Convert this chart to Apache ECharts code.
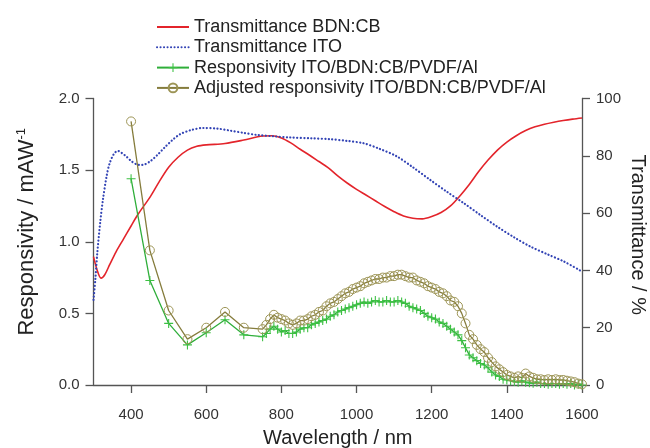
<!DOCTYPE html>
<html><head><meta charset="utf-8">
<script src="https://cdn.jsdelivr.net/npm/echarts@6/dist/echarts.min.js"></script>
<style>html,body{margin:0;padding:0;background:#fff}#c{width:650px;height:448px}</style>
</head><body><div id="c"></div>
<script>
// Transmittance BDN:CB (%)
var redX = [300,310,320,330,343,360,380,400,418,450,475,500,525,550,575,600,650,700,750,775,800,825,850,875,900,925,950,975,1000,1025,1050,1075,1100,1125,1150,1175,1200,1225,1250,1275,1300,1325,1350,1375,1400,1425,1450,1475,1500,1525,1550,1575,1600];
var redY = [44.8,40.0,37.3,38.5,42.0,46.5,51.0,55.5,59.5,65.5,71.0,76.0,79.5,82.0,83.3,83.8,84.3,85.5,86.9,87.0,86.2,84.5,82.3,80.2,78.0,75.8,73.0,70.5,68.3,66.3,64.3,62.3,60.5,59.0,58.2,58.0,58.8,60.2,62.5,66.0,70.0,74.5,78.5,82.0,84.8,87.0,88.8,90.1,91.0,91.7,92.3,92.8,93.2];
// Transmittance ITO (%)
var blueX = [300,305,310,318,325,335,343,355,365,375,387,400,415,430,450,470,490,510,530,560,591,630,663,700,734,780,823,880,929,975,1018,1060,1107,1150,1196,1240,1285,1330,1374,1420,1463,1510,1552,1600];
var blueY = [29.7,37.0,46.0,57.0,64.6,73.0,77.4,80.8,81.7,81.0,79.8,78.2,77.0,76.8,78.0,80.3,83.0,85.5,87.5,89.0,89.7,89.5,88.8,88.0,87.3,86.8,86.4,86.1,85.8,85.2,84.4,82.5,79.8,76.0,71.6,67.5,63.5,59.3,55.3,51.5,48.3,45.5,43.1,39.6];
// wavelengths for responsivity points (nm)
var respX = [400,450,500,550,600,650,700,750,
 760,770,780,790,800,810,820,830,840,850,860,870,880,890,900,910,920,930,940,950,
 960,970,980,990,1000,1010,1020,1030,1040,1050,1060,1070,1080,1090,1100,1110,1120,1130,1140,1150,
 1160,1170,1180,1190,1200,1210,1220,1230,1240,1250,1260,1270,1280,1290,1300,1310,1320,1330,1340,1350,
 1360,1370,1380,1390,1400,1410,1420,1430,1440,1450,1460,1470,1480,1490,1500,1510,1520,1530,1540,1550,
 1560,1570,1580,1590,1600];
// Responsivity ITO/BDN:CB/PVDF/Al (mA/W)
var respY = [1.44,0.73,0.43,0.28,0.365,0.455,0.35,0.337,
 0.36,0.39,0.41,0.39,0.37,0.38,0.36,0.36,0.37,0.39,0.40,0.40,0.42,0.43,0.44,0.45,0.46,0.48,0.49,0.51,
 0.52,0.53,0.54,0.55,0.56,0.57,0.58,0.57,0.58,0.59,0.58,0.58,0.59,0.58,0.58,0.59,0.58,0.57,0.55,0.54,
 0.53,0.52,0.50,0.48,0.47,0.46,0.44,0.43,0.41,0.39,0.37,0.35,0.31,0.26,0.21,0.19,0.17,0.15,0.14,0.12,
 0.09,0.07,0.06,0.04,0.035,0.03,0.025,0.02,0.03,0.02,0.015,0.012,0.02,0.01,0.01,0.005,0.01,0.01,0.005,0.01,
 0.005,0.01,0.0,0.005,0.0];
// Adjusted responsivity (mA/W)
var adjY = [1.84,0.94,0.52,0.32,0.40,0.51,0.40,0.39,
 0.42,0.46,0.49,0.47,0.46,0.45,0.43,0.42,0.43,0.45,0.45,0.46,0.48,0.49,0.51,0.52,0.55,0.57,0.58,0.60,
 0.62,0.64,0.65,0.67,0.68,0.69,0.71,0.72,0.73,0.74,0.74,0.75,0.75,0.76,0.76,0.77,0.77,0.76,0.75,0.75,
 0.73,0.72,0.71,0.69,0.68,0.67,0.65,0.64,0.62,0.59,0.58,0.55,0.50,0.43,0.35,0.32,0.28,0.25,0.23,0.19,
 0.16,0.13,0.11,0.09,0.07,0.06,0.05,0.06,0.05,0.08,0.06,0.05,0.04,0.04,0.035,0.04,0.035,0.04,0.035,0.035,
 0.03,0.025,0.02,0.01,0.005];
var xTicks = [400,600,800,1000,1200,1400,1600];
var names = ['Transmittance BDN:CB','Transmittance ITO','Responsivity ITO/BDN:CB/PVDF/Al','Adjusted responsivity ITO/BDN:CB/PVDF/Al'];

function pairs(xs, ys){ return xs.map(function(x,i){ return [x, ys[i]]; }); }
var plus = 'path://M-0.6,-5 L0.6,-5 L0.6,-0.6 L5,-0.6 L5,0.6 L0.6,0.6 L0.6,5 L-0.6,5 L-0.6,0.6 L-5,0.6 L-5,-0.6 L-0.6,-0.6 Z';
var axisCol = '#555';
var font = 'Liberation Sans, Arial, sans-serif';
var chart = echarts.init(document.getElementById('c'));
chart.setOption({
  animation: false,
  textStyle: {fontFamily: font},
  legend: {
    orient: 'vertical', left: 151, top: 13, itemWidth: 32, itemHeight: 11, itemGap: 2.3,
    textStyle: {fontSize: 18, lineHeight: 18, color: '#222', fontFamily: font},
    data: [
      {name: names[0], itemStyle: {opacity: 0}},
      {name: names[1], itemStyle: {opacity: 0}},
      {name: names[2]},
      {name: names[3]}
    ]
  },
  grid: {left: 93.5, right: 68, top: 98.5, bottom: 63, containLabel: false, outerBoundsMode: 'none'},
  xAxis: {
    type: 'value', min: 300, max: 1600, interval: 200,
    offset: 6.5,
    name: 'Wavelength / nm', nameLocation: 'middle', nameGap: 37, nameMoveOverlap: false,
    nameTextStyle: {fontSize: 20, color: '#222', fontFamily: font},
    axisLine: {lineStyle: {color: axisCol, width: 1.3}},
    axisTick: {show: true, length: 8, lineStyle: {color: axisCol, width: 1.3}, customValues: xTicks},
    axisLabel: {fontSize: 15, color: '#333', margin: 16, customValues: xTicks, formatter: function(v){ return String(v); }},
    splitLine: {show: false}
  },
  yAxis: [{
    type: 'value', min: 0, max: 2, interval: 0.5, position: 'left',
    name: 'Responsivity / mAW{sup|-1}', nameLocation: 'middle', nameGap: 54, nameMoveOverlap: false,
    nameTextStyle: {fontSize: 22, color: '#222', fontFamily: font, padding: [0,0,0,20],
      rich: {sup: {fontSize: 13, verticalAlign: 'top', padding: [0,0,12,0], color: '#222', fontFamily: font}}},
    axisLine: {show: true, lineStyle: {color: axisCol, width: 1.3}},
    axisTick: {show: true, length: 8, lineStyle: {color: axisCol, width: 1.3}},
    axisLabel: {fontSize: 15, color: '#333', margin: 14, formatter: function(v){ return v.toFixed(1); }},
    splitLine: {show: false}
  },{
    type: 'value', min: 0, max: 100, interval: 20, position: 'right',
    name: 'Transmittance / %', nameLocation: 'middle', nameGap: 46, nameRotate: -90, nameMoveOverlap: false,
    nameTextStyle: {fontSize: 20, color: '#222', fontFamily: font, padding: [0,14,0,0]},
    axisLine: {show: true, lineStyle: {color: axisCol, width: 1.3}},
    axisTick: {show: true, length: 8, lineStyle: {color: axisCol, width: 1.3}},
    axisLabel: {fontSize: 15, color: '#333', margin: 14},
    splitLine: {show: false}
  }],
  series: [{
    name: names[0], type: 'line', yAxisIndex: 1, data: pairs(redX, redY),
    smooth: 0.3, showSymbol: false, symbol: 'none',
    lineStyle: {color: '#e3242b', width: 1.6}, itemStyle: {color: '#e3242b'}
  },{
    name: names[1], type: 'line', yAxisIndex: 1, data: pairs(blueX, blueY),
    smooth: 0.3, showSymbol: false, symbol: 'none',
    lineStyle: {color: '#3344b5', width: 2.2, type: [0.1,3.4], cap: 'round'}, itemStyle: {color: '#3344b5'}
  },{
    name: names[2], type: 'line', yAxisIndex: 0, data: pairs(respX, respY),
    symbol: plus, symbolSize: 9, showAllSymbol: true,
    lineStyle: {color: '#2fae3a', width: 1.3}, itemStyle: {color: '#3cc043'}
  },{
    name: names[3], type: 'line', yAxisIndex: 0, data: pairs(respX, adjY),
    symbol: 'circle', symbolSize: 9, showAllSymbol: true,
    lineStyle: {color: '#857c3c', width: 1.3},
    itemStyle: {color: 'rgba(0,0,0,0)', borderColor: '#9c9455', borderWidth: 1}
  }]
});
</script></body></html>
